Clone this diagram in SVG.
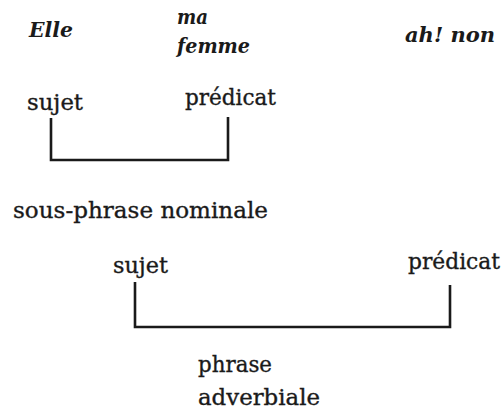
<svg xmlns="http://www.w3.org/2000/svg" width="504" height="412" viewBox="0 0 504 412">
<style>
.w{font-family:"DejaVu Serif","Liberation Serif",serif;font-style:italic;font-weight:bold;font-size:20px;fill:#1a1a1a}
.t{font-family:"DejaVu Serif","Liberation Serif",serif;font-size:22px;fill:#1a1a1a;stroke:#1a1a1a;stroke-width:0.35}
.b{fill:none;stroke:#1a1a1a;stroke-width:2.6}
</style>
<rect width="504" height="412" fill="#fff"/>
<g id="words">
<text class="w" x="29" y="37" textLength="44" lengthAdjust="spacingAndGlyphs">Elle</text>
<text class="w" x="177" y="24" textLength="31" lengthAdjust="spacingAndGlyphs">ma</text>
<text class="w" x="177" y="53" textLength="73" lengthAdjust="spacingAndGlyphs">femme</text>
<text class="w" x="405" y="42" textLength="90" lengthAdjust="spacingAndGlyphs">ah! non</text>
</g>
<g id="sujet1"><text class="t" x="27" y="110" textLength="56" lengthAdjust="spacingAndGlyphs">sujet</text></g>
<g id="predicat1"><text class="t" x="185" y="105" textLength="91" lengthAdjust="spacingAndGlyphs">prédicat</text></g>
<g id="sousphrase"><text class="t" x="13" y="218" textLength="255" lengthAdjust="spacingAndGlyphs">sous-phrase nominale</text></g>
<g id="sujet2"><text class="t" x="113" y="273" textLength="55" lengthAdjust="spacingAndGlyphs">sujet</text></g>
<g id="predicat2"><text class="t" x="408" y="269" textLength="92" lengthAdjust="spacingAndGlyphs">prédicat</text></g>
<g id="phrase"><text class="t" x="198" y="372" textLength="74" lengthAdjust="spacingAndGlyphs">phrase</text><text class="t" x="198" y="405" textLength="122" lengthAdjust="spacingAndGlyphs">adverbiale</text></g>
<g id="connectors">
<path class="b" d="M51,118 V160 H228 V117"/>
<path class="b" d="M135,282 V327 H450 V285"/>
</g>
</svg>
